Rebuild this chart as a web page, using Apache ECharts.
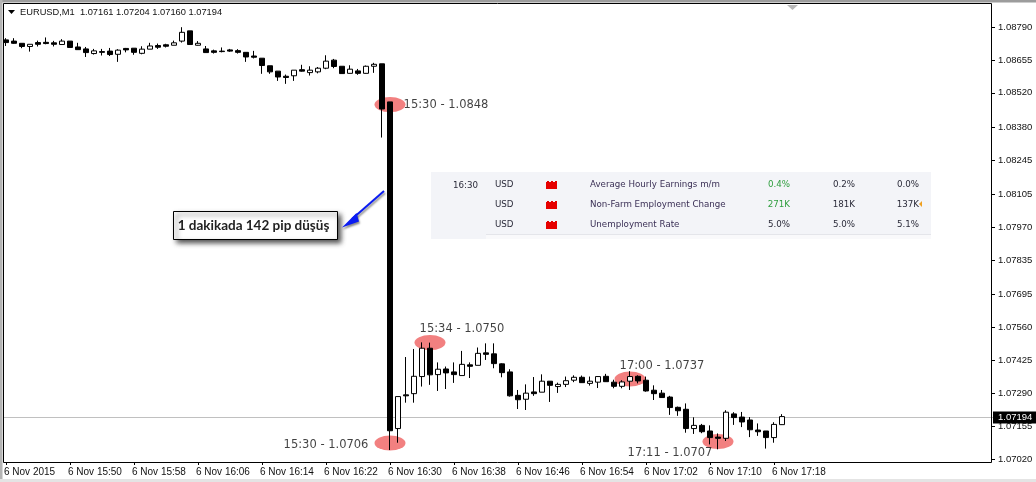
<!DOCTYPE html>
<html><head><meta charset="utf-8">
<style>html,body{margin:0;padding:0;background:#fff}#c{width:1036px;height:482px}</style>
<script src="https://cdn.jsdelivr.net/npm/echarts@6/dist/echarts.min.js"></script>
</head><body><div id="c"></div>
<script>
const opens=[1.08737,1.08732,1.08723,1.08710,1.08726,1.08727,1.08725,1.08718,1.08732,1.08708,1.08700,1.08681,1.08689,1.08691,1.08678,1.08702,1.08703,1.08682,1.08699,1.08714,1.08717,1.08715,1.08732,1.08774,1.08715,1.08700,1.08692,1.08691,1.08696,1.08693,1.08686,1.08671,1.08662,1.08631,1.08609,1.08588,1.08590,1.08615,1.08603,1.08606,1.08621,1.08654,1.08629,1.08600,1.08610,1.08600,1.08629,1.08639,1.08483,1.07145,1.07283,1.07288,1.07358,1.07474,1.07366,1.07389,1.07377,1.07362,1.07406,1.07404,1.07455,1.07451,1.07410,1.07377,1.07281,1.07265,1.07295,1.07294,1.07339,1.07317,1.07326,1.07343,1.07355,1.07330,1.07335,1.07359,1.07335,1.07318,1.07339,1.07359,1.07343,1.07302,1.07290,1.07274,1.07232,1.07224,1.07145,1.07158,1.07135,1.07110,1.07105,1.07205,1.07192,1.07180,1.07139,1.07135,1.07108,1.07161];
const closes=[1.08726,1.08723,1.08710,1.08719,1.08719,1.08722,1.08719,1.08732,1.08706,1.08697,1.08685,1.08692,1.08686,1.08677,1.08695,1.08696,1.08686,1.08699,1.08712,1.08707,1.08711,1.08725,1.08768,1.08718,1.08723,1.08685,1.08686,1.08689,1.08691,1.08686,1.08667,1.08666,1.08632,1.08606,1.08585,1.08583,1.08613,1.08609,1.08613,1.08621,1.08650,1.08628,1.08599,1.08617,1.08600,1.08629,1.08637,1.08454,1.07136,1.07276,1.07279,1.07359,1.07474,1.07365,1.07388,1.07373,1.07366,1.07408,1.07400,1.07453,1.07449,1.07411,1.07374,1.07279,1.07263,1.07290,1.07288,1.07339,1.07322,1.07326,1.07341,1.07355,1.07333,1.07339,1.07358,1.07337,1.07318,1.07336,1.07358,1.07340,1.07299,1.07288,1.07272,1.07231,1.07218,1.07145,1.07158,1.07132,1.07108,1.07105,1.07212,1.07190,1.07172,1.07140,1.07132,1.07108,1.07162,1.07194];
const lows=[1.08712,1.08721,1.08703,1.08689,1.08710,1.08719,1.08710,1.08718,1.08706,1.08697,1.08667,1.08677,1.08673,1.08671,1.08647,1.08686,1.08676,1.08678,1.08699,1.08700,1.08706,1.08715,1.08726,1.08718,1.08714,1.08685,1.08681,1.08686,1.08688,1.08681,1.08647,1.08661,1.08598,1.08598,1.08569,1.08557,1.08569,1.08607,1.08591,1.08600,1.08617,1.08621,1.08599,1.08599,1.08594,1.08599,1.08602,1.08337,1.07057,1.07087,1.07251,1.07251,1.07317,1.07324,1.07299,1.07307,1.07332,1.07362,1.07352,1.07404,1.07426,1.07392,1.07355,1.07276,1.07225,1.07221,1.07279,1.07294,1.07254,1.07291,1.07315,1.07335,1.07332,1.07321,1.07311,1.07336,1.07310,1.07310,1.07303,1.07330,1.07296,1.07262,1.07272,1.07201,1.07197,1.07128,1.07123,1.07126,1.07080,1.07060,1.07094,1.07160,1.07151,1.07110,1.07115,1.07063,1.07087,1.07160];
const highs=[1.08744,1.08744,1.08723,1.08719,1.08734,1.08747,1.08733,1.08740,1.08732,1.08725,1.08708,1.08700,1.08700,1.08704,1.08699,1.08704,1.08703,1.08711,1.08725,1.08722,1.08721,1.08734,1.08789,1.08774,1.08732,1.08712,1.08697,1.08706,1.08700,1.08699,1.08686,1.08692,1.08662,1.08631,1.08609,1.08595,1.08613,1.08635,1.08629,1.08626,1.08674,1.08659,1.08629,1.08633,1.08618,1.08632,1.08643,1.08639,1.08483,1.07276,1.07438,1.07471,1.07498,1.07497,1.07416,1.07399,1.07416,1.07463,1.07416,1.07477,1.07494,1.07494,1.07412,1.07388,1.07303,1.07326,1.07356,1.07367,1.07339,1.07333,1.07358,1.07363,1.07362,1.07358,1.07360,1.07369,1.07345,1.07343,1.07380,1.07363,1.07358,1.07322,1.07303,1.07279,1.07235,1.07248,1.07191,1.07164,1.07158,1.07125,1.07220,1.07212,1.07213,1.07192,1.07166,1.07135,1.07171,1.07204];
const xTickLabels=['6 Nov 2015','6 Nov 15:50','6 Nov 15:58','6 Nov 16:06','6 Nov 16:14','6 Nov 16:22','6 Nov 16:30','6 Nov 16:38','6 Nov 16:46','6 Nov 16:54','6 Nov 17:02','6 Nov 17:10','6 Nov 17:18'];
const yTicks=[1.0879,1.08655,1.0852,1.0838,1.08245,1.08105,1.0797,1.07835,1.07695,1.0756,1.07425,1.0729,1.07155,1.0702];
const lastPrice=1.07194;
const titleText='EURUSD,M1  1.07161 1.07204 1.07160 1.07194';
// highlighted zones: bar index, price
const zoneBars=[48,53,78,48,89];
const zonePrices=[1.08472,1.07497,1.07348,1.07086,1.07092];
// annotation texts: text, anchoring bar, anchoring price
const noteTexts=['15:30 - 1.0848','15:34 - 1.0750','17:00 - 1.0737','15:30 - 1.0706','17:11 - 1.0707'];
const noteBars=[55,57,82,40,83];
const notePrices=[1.08471,1.07553,1.07401,1.07077,1.07045];
const calloutText='1 dakikada 142 pip düşüş';
const tableCurrency=['USD','USD','USD'];
const tableEvents=['Average Hourly Earnings m/m','Non-Farm Employment Change','Unemployment Rate'];
const tableActual=['0.4%','271K','5.0%'];
const tableForecast=['0.2%','181K','5.0%'];
const tablePrevious=['0.0%','137K','5.1%'];
const tableTime='16:30';

const N=124;
const categories=Array.from({length:N},(_,i)=>i%8===0&&xTickLabels[i/8]?xTickLabels[i/8]:'');
const candles=opens.map((o,i)=>[o,closes[i],lows[i],highs[i]]);
const showTick=i=>i%8===0&&i/8<xTickLabels.length;

const tableFont='DejaVu Sans';
const g=[];
const txt=(x,y,t,o={})=>g.push({type:'text',x,y,z:5,style:Object.assign({text:t,fill:'#2b2b3a',font:'8.7px '+tableFont,verticalAlign:'middle',align:'left'},o)});
g.push({type:'rect',z:1,shape:{x:431,y:172,width:500,height:62},style:{fill:'#f3f4f8'}});
g.push({type:'rect',z:1,shape:{x:431,y:234,width:55,height:5},style:{fill:'#f3f4f8'}});
g.push({type:'rect',z:1,shape:{x:486,y:234,width:445,height:1},style:{fill:'#e4e5ea'}});
g.push({type:'rect',z:1,shape:{x:486,y:235,width:445,height:4},style:{fill:'#f9f9fb'}});
txt(453,186,tableTime);
tableEvents.forEach((e,i)=>{
  const y=185+i*20;
  txt(495,y,tableCurrency[i]);
  g.push({type:'rect',z:5,shape:{x:546,y:y-3,width:11,height:7},style:{fill:'#e60000'}});
  g.push({type:'rect',z:5,shape:{x:547,y:y-4,width:2,height:1},style:{fill:'#e60000'}});
  g.push({type:'rect',z:5,shape:{x:551,y:y-4,width:2,height:1},style:{fill:'#e60000'}});
  g.push({type:'rect',z:5,shape:{x:555,y:y-4,width:2,height:1},style:{fill:'#e60000'}});
  txt(590,y,e,{fill:'#3a2f55'});
  txt(790,y,tableActual[i],{align:'right',fill:i<2?'#2f9e3f':'#2b2b3a'});
  txt(855,y,tableForecast[i],{align:'right'});
  txt(919,y,tablePrevious[i],{align:'right'});
});
g.push({type:'polygon',z:5,shape:{points:[[922,201],[922,207],[919,204]]},style:{fill:'#f0a020'}});
// callout
g.push({type:'rect',z:20,shape:{x:173.5,y:211.5,width:164,height:28},style:{fill:'#fff',stroke:'#000',lineWidth:1,shadowBlur:5,shadowOffsetX:3,shadowOffsetY:3,shadowColor:'rgba(0,0,0,0.7)'}});
g.push({type:'text',z:21,x:253.5,y:225.5,style:{text:calloutText,font:'bold 13.5px Lato',fill:'#222',align:'center',verticalAlign:'middle'}});
// arrow
g.push({type:'line',z:20,shape:{x1:384,y1:191,x2:352,y2:219},style:{stroke:'#0b1cf2',lineWidth:2,shadowBlur:2,shadowOffsetX:1,shadowOffsetY:2,shadowColor:'rgba(0,0,0,0.45)'}});
g.push({type:'polygon',z:20,shape:{points:[[342,227.5],[356.5,213],[359,221.5]]},style:{fill:'#0b1cf2',shadowBlur:2,shadowOffsetX:1,shadowOffsetY:2,shadowColor:'rgba(0,0,0,0.45)'}});
// window chrome and plot frame
g.push({type:'rect',z:30,shape:{x:0,y:0,width:3,height:482},style:{fill:'#fff'}});
g.push({type:'rect',z:31,shape:{x:0,y:0,width:1036,height:2.5},style:{fill:'#9c9c9c'}});
g.push({type:'rect',z:31,shape:{x:0,y:0,width:2.5,height:480},style:{fill:'#b4b4b4'}});
g.push({type:'rect',z:31,shape:{x:0,y:479,width:1036,height:3},style:{fill:'#e4e4e4'}});
g.push({type:'rect',z:32,shape:{x:3.5,y:3.5,width:988,height:459},style:{fill:'none',stroke:'#000',lineWidth:1}});
g.push({type:'polygon',z:32,shape:{points:[[787,5],[798,5],[792.5,10]]},style:{fill:'#b8b8b8'}});
g.push({type:'polygon',z:33,shape:{points:[[8,10],[15,10],[11.5,14]]},style:{fill:'#000'}});
g.push({type:'text',z:33,x:20,y:12.5,style:{text:titleText,font:'9.3px "Liberation Sans"',fill:'#111',verticalAlign:'middle'}});

const chart=echarts.init(document.getElementById('c'),null,{renderer:'canvas'});
chart.setOption({
  animation:false,
  backgroundColor:'#fff',
  grid:{left:2,top:4,width:992,height:458,containLabel:false,outerBoundsMode:'none'},
  xAxis:{type:'category',data:categories,boundaryGap:true,
    axisLine:{show:false},
    axisTick:{show:true,alignWithLabel:true,interval:showTick,length:3,lineStyle:{color:'#000'}},
    axisLabel:{interval:showTick,align:'left',margin:5,fontSize:10,fontFamily:'Liberation Sans',color:'#111',padding:[0,0,0,-2],hideOverlap:false},
    splitLine:{show:false}},
  yAxis:[
    {type:'value',position:'right',offset:-2,min:1.07008,max:1.08884,scale:true,
      axisLine:{show:false},
      axisTick:{show:true,customValues:yTicks,length:3,lineStyle:{color:'#000'}},
      axisLabel:{customValues:yTicks,margin:6,fontSize:9.5,fontFamily:'Liberation Sans',color:'#111',formatter:v=>v.toFixed(5)},
      splitLine:{show:false}},
    {type:'value',position:'right',offset:-2,z:1,min:1.07012,max:1.08888,scale:true,
      axisLine:{show:false},
      axisTick:{show:false,customValues:[lastPrice]},
      axisLabel:{customValues:[lastPrice],margin:1,fontSize:9.5,fontFamily:'Liberation Sans',color:'#fff',backgroundColor:'#000',padding:[1,4,1,5],formatter:v=>v.toFixed(5)},
      splitLine:{show:true,lineStyle:{color:'#c0c0c0',width:1,type:'solid'}}}
  ],
  series:[
    {type:'scatter',z:1,symbol:'circle',symbolSize:[31,15],itemStyle:{color:'#f28080',opacity:1},silent:true,
      data:zoneBars.map((b,i)=>[b,zonePrices[i]])},
    {type:'candlestick',z:3,barWidth:5,
      itemStyle:{color:'#fff',color0:'#000',borderColor:'#000',borderColor0:'#000',borderWidth:1},
      data:candles},
    {type:'scatter',z:4,symbolSize:1,itemStyle:{color:'rgba(0,0,0,0)'},silent:true,
      label:{show:true,position:'inside',formatter:p=>noteTexts[p.dataIndex],color:'#111',fontSize:11.5,fontFamily:'DejaVu Sans'},
      data:noteBars.map((b,i)=>[b,notePrices[i]])}
  ],
  graphic:g
});
</script></body></html>
